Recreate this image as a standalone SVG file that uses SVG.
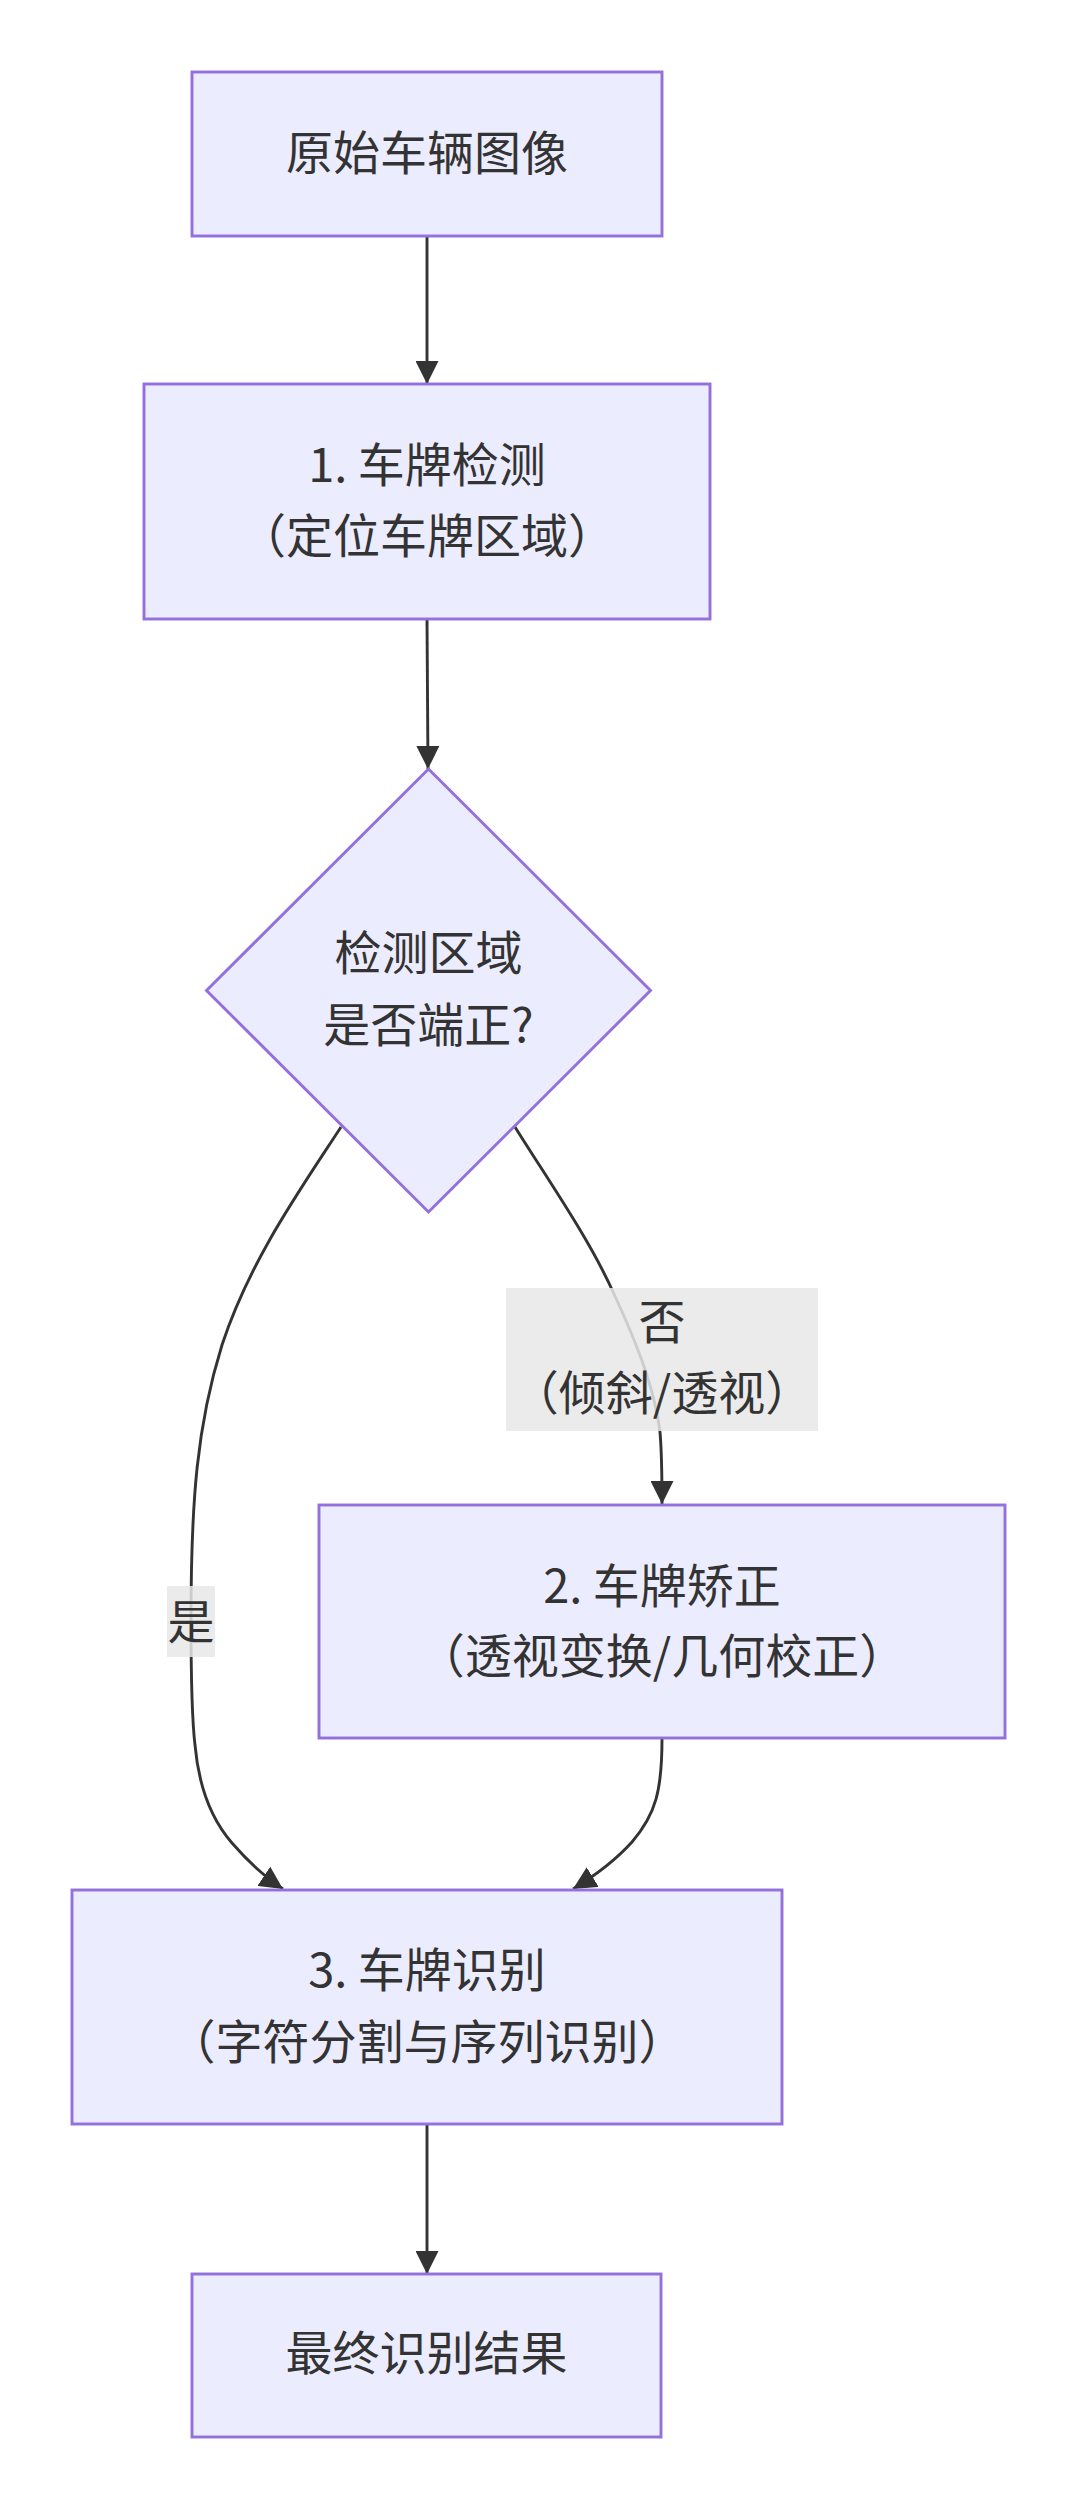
<svg xmlns="http://www.w3.org/2000/svg" width="1078" height="2509" viewBox="0 0 1078 2509">
<style>
.node{fill:#ECECFF;stroke:#9370DB;stroke-width:2.9}
.edge{fill:none;stroke:#333333;stroke-width:2.9}
.lbl{fill:#e8e8e8;fill-opacity:0.85;stroke:none}
text{font-family:"Noto Sans CJK SC","Noto Sans",sans-serif;font-size:47px;fill:#333333;text-anchor:middle}
</style>
<defs>
<marker id="arrow" viewBox="0 0 10 10" refX="10" refY="5" markerUnits="userSpaceOnUse" markerWidth="23" markerHeight="23" orient="auto">
<path d="M0,0 L10,5 L0,10 z" fill="#333333"/>
</marker>
</defs>
<rect width="1078" height="2509" fill="#ffffff"/>
<g id="connectors">
<path class="edge" d="M427,236 L427,384" marker-end="url(#arrow)"/>
<path class="edge" d="M427,619 L428,769" marker-end="url(#arrow)"/>
<path class="edge" d="M341,1127 C300,1190 250,1260 222,1345 C197,1425 191,1500 191,1620 C191,1690 192,1720 195,1745 C199,1790 212,1820 232,1843 C245,1858 262,1875 283,1889" marker-end="url(#arrow)"/>
<path class="edge" d="M515,1127 C550,1183 590,1240 614,1294 C640,1350 655,1392 660,1432 C662,1455 662,1478 662,1504" marker-end="url(#arrow)"/>
<path class="edge" d="M662,1739 C662,1790 656,1814 632,1842 C614,1862 596,1875 573,1889" marker-end="url(#arrow)"/>
<path class="edge" d="M427,2124 L427,2274" marker-end="url(#arrow)"/>
</g>
<g id="edge-label-no">
<rect class="lbl" x="506" y="1288" width="312" height="143"/>
<text x="662" y="1338.5">否</text>
<text x="662" y="1410">（倾斜/透视）</text>
</g>
<g id="edge-label-yes">
<rect class="lbl" x="167" y="1586" width="48" height="71"/>
<text x="191" y="1639">是</text>
</g>
<g id="node-input">
<rect class="node" x="192" y="72" width="470" height="164"/>
<text x="427" y="170">原始车辆图像</text>
</g>
<g id="node-detect">
<rect class="node" x="144" y="384" width="566" height="235"/>
<text x="427" y="482">1. 车牌检测</text>
<text x="427" y="552.5">（定位车牌区域）</text>
</g>
<g id="node-decision">
<polygon class="node" points="428.5,769 650.5,990.5 428.5,1212 206.5,990.5"/>
<text x="428.5" y="970">检测区域</text>
<text x="428.5" y="1041.5">是否端正?</text>
</g>
<g id="node-correct">
<rect class="node" x="319" y="1505" width="686" height="233"/>
<text x="662" y="1602.5">2. 车牌矫正</text>
<text x="662" y="1672.5">（透视变换/几何校正）</text>
</g>
<g id="node-recognize">
<rect class="node" x="72" y="1890" width="710" height="234"/>
<text x="427" y="1987">3. 车牌识别</text>
<text x="427" y="2059">（字符分割与序列识别）</text>
</g>
<g id="node-result">
<rect class="node" x="192" y="2274" width="469" height="163"/>
<text x="426.5" y="2370">最终识别结果</text>
</g>
</svg>
